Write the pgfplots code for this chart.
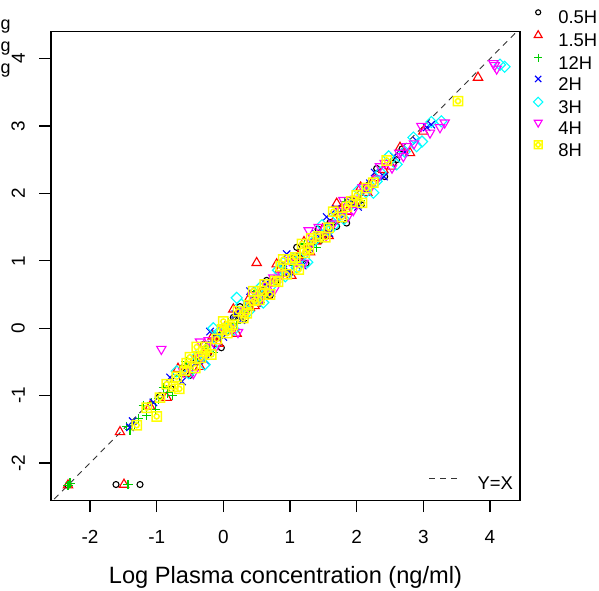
\documentclass[border=0pt]{standalone}
\usepackage{graphicx}
\usepackage{pgfplots}
\pgfplotsset{compat=1.18}
\usepackage{fontspec}
\setmainfont{Liberation Sans}
\definecolor{rgreen}{HTML}{00CD00}
\definecolor{rcyan}{HTML}{00FFFF}
\definecolor{rmag}{HTML}{FF00FF}
\definecolor{ryel}{HTML}{FFFF00}
\pgfdeclareplotmark{sqcirc}{%
  \pgfpathrectangle{\pgfqpoint{-\pgfplotmarksize}{-\pgfplotmarksize}}{\pgfqpoint{2\pgfplotmarksize}{2\pgfplotmarksize}}%
  \pgfpathcircle{\pgfpointorigin}{0.55\pgfplotmarksize}%
  \pgfusepathqstroke}
\begin{document}
\begin{tikzpicture}
\path[use as bounding box] (-51bp,-90.3bp) rectangle (548bp,500.7bp);
\node[anchor=base west, inner sep=0pt, font=\fontsize{18}{18}\selectfont] at (-50.5bp,471.3bp) {g};
\node[anchor=base west, inner sep=0pt, font=\fontsize{18}{18}\selectfont] at (-50.5bp,449.6bp) {g};
\node[anchor=base west, inner sep=0pt, font=\fontsize{18}{18}\selectfont] at (-50.5bp,427.3bp) {g};
\begin{axis}[
  at={(0,0)}, anchor=south west,
  scale only axis, width=469bp, height=469bp,
  xmin=-2.585, xmax=4.45, ymin=-2.56, ymax=4.40,
  xtick={-2,-1,0,1,2,3,4}, ytick={-2,-1,0,1,2,3,4},
  xtick pos=bottom, ytick pos=left,
  tick align=outside, major tick length=11.5bp,
  every tick/.style={black, line width=1.1bp},
  axis line style={line width=1.2bp, black},
  /pgf/number format/assume math mode=true,
  ticklabel style={font=\fontsize{19}{19}\selectfont, inner sep=0pt},
  xticklabel style={anchor=base, yshift=-31.5bp},
  yticklabel={\rotatebox{90}{\pgfmathprintnumber{\tick}}},
  yticklabel style={anchor=east, xshift=-14.5bp},
  xlabel={Log Plasma concentration (ng/ml)},
  xlabel style={at={(axis description cs:0.5,0)}, anchor=base, yshift=-83bp, font=\fontsize{23.7}{24}\selectfont},
  legend cell align=left,
  legend image code/.code={\draw[#1,every mark/.append style={scale=0.85}] plot coordinates {(0bp,6.5bp)};},
  legend style={at={(1,1)}, anchor=north west, xshift=13.5bp, yshift=21.9bp,
    draw=none, fill=none, inner sep=0pt, outer sep=0pt, row sep=3.3bp, column sep=15.5bp,
    font=\fontsize{18.5}{18.5}\selectfont,
    nodes={inner sep=0pt, text height=13.5bp, text depth=3.5bp}},
]
\addplot[black!80, line width=0.9bp, dash pattern=on 6bp off 5bp, forget plot] coordinates {(-3,-3) (5,5)};
% 0.5H
\addplot[only marks, mark=o, mark size=3bp, black, line width=1.1bp] coordinates {
(-2.33,-2.33) (-1.61,-2.32) (-1.25,-2.32)
(-0.95,-1.00) (-0.78,-0.90) (-0.62,-0.59) (-0.50,-0.70) (-0.41,-0.49) (-0.30,-0.24)
(-0.22,-0.37) (-0.12,-0.14) (-0.03,-0.29) (0.06,-0.04) (0.15,0.16) (0.24,0.18)
(0.33,0.15) (0.42,0.50) (0.51,0.38) (0.60,0.56) (0.70,0.48) (0.79,0.70)
(0.88,0.92) (0.97,0.81) (1.06,1.05) (1.15,1.04) (1.24,0.96) (1.33,1.26)
(1.42,1.47) (1.51,1.37) (1.60,1.57) (1.70,1.51) (1.79,1.71) (1.88,1.90)
(1.97,1.85) (2.07,1.83) (2.18,2.13) (2.30,2.37) (2.42,2.25) (2.55,2.45) (2.68,2.66)
(1.85,1.56) (0.25,0.32) (0.65,0.71) (1.10,1.20) (1.45,1.30) (2.60,2.50)
};
\addlegendentry{0.5H}
% 1.5H
\addplot[only marks, mark=triangle, mark size=5.4bp, red, line width=1.1bp] coordinates {
(-2.33,-2.33) (-1.49,-2.32) (0.50,0.97) (3.82,3.72)
(-1.55,-1.54) (-1.10,-1.16) (-0.85,-1.03) (-0.68,-0.60) (-0.55,-0.68) (-0.44,-0.48)
(-0.35,-0.57) (-0.25,-0.34) (-0.16,-0.12) (-0.07,-0.23) (0.02,0.01) (0.11,0.00)
(0.20,-0.08) (0.29,0.22) (0.38,0.43) (0.47,0.33) (0.56,0.53) (0.66,0.47)
(0.75,0.67) (0.84,0.86) (0.93,0.81) (1.02,0.78) (1.12,1.07) (1.21,1.28)
(1.30,1.13) (1.39,1.29) (1.49,1.47) (1.58,1.37) (1.67,1.61) (1.77,1.77)
(1.86,1.73) (1.96,1.87) (2.06,2.09) (2.16,2.01) (2.27,2.23) (2.40,2.35)
(2.52,2.40) (2.65,2.68) (2.80,2.60) (3.00,2.92)
(0.15,0.28) (0.40,0.30) (0.80,0.95) (1.25,1.15) (1.70,1.85) (1.55,1.40)
};
\addlegendentry{1.5H}
% 12H
\addplot[only marks, mark=+, mark size=4.7bp, rgreen, line width=1.1bp] coordinates {
(-2.33,-2.33) (-2.30,-2.30) (-1.43,-2.32)
(-1.45,-1.46) (-1.40,-1.51) (-1.33,-1.42) (-1.27,-1.34) (-1.20,-1.15) (-1.15,-1.29)
(-1.08,-1.11) (-1.02,-1.21) (-0.97,-1.05) (-0.90,-0.88) (-0.84,-0.96) (-0.76,-1.00)
(-0.66,-0.71) (-0.56,-0.49) (-0.46,-0.63) (-0.36,-0.46) (-0.26,-0.28) (-0.15,-0.36)
(-0.04,-0.10) (0.08,0.08) (0.20,0.07) (0.33,0.24) (0.46,0.49) (0.60,0.45)
(0.75,0.71) (0.90,0.85) (1.05,0.93) (1.22,1.25) (1.40,1.20) (1.60,1.52)
(1.82,1.88) (2.05,1.90) (0.55,0.38) (1.15,1.02)
};
\addlegendentry{12H}
% 2H
\addplot[only marks, mark=x, mark size=5.2bp, blue, line width=1.1bp] coordinates {
(-1.40,-1.47) (-1.36,-1.38) (-1.05,-1.10) (-0.80,-0.73) (-0.62,-0.79) (-0.48,-0.58)
(-0.37,-0.39) (-0.27,-0.48) (-0.18,-0.24) (-0.09,-0.09) (0.00,-0.13) (0.09,0.00)
(0.18,0.21) (0.27,0.12) (0.36,0.32) (0.45,0.40) (0.54,0.42) (0.63,0.66)
(0.72,0.52) (0.81,0.73) (0.90,0.96) (0.99,0.84) (1.09,1.07) (1.19,0.93)
(1.29,1.19) (1.39,1.40) (1.49,1.43) (1.59,1.41) (1.69,1.77) (1.80,1.67)
(1.91,1.87) (2.02,1.80) (2.14,2.05) (2.27,2.31) (2.41,2.25) (2.56,2.55)
(2.72,2.61) (2.90,2.78) (3.05,2.98) (3.12,3.02)
(0.40,0.55) (0.95,1.10) (1.55,1.65) (2.20,2.15) (-0.20,-0.05)
};
\addlegendentry{2H}
% 3H
\addplot[only marks, mark=square, mark size=3.9bp, mark options={rotate=45}, rcyan, line width=1.1bp] coordinates {
(4.22,3.88) (4.15,3.91) (0.20,0.45) (0.90,0.97) (-0.15,0.00)
(-0.70,-0.64) (-0.52,-0.67) (-0.40,-0.42) (-0.28,-0.54) (-0.17,-0.27) (-0.06,-0.05)
(0.05,-0.01) (0.16,-0.02) (0.27,0.35) (0.38,0.25) (0.49,0.45) (0.60,0.38)
(0.71,0.62) (0.82,0.86) (0.93,0.77) (1.04,1.03) (1.15,1.04) (1.26,0.98)
(1.37,1.30) (1.48,1.53) (1.59,1.45) (1.70,1.67) (1.81,1.62) (1.92,1.84)
(2.03,2.05) (2.14,2.02) (2.25,2.01) (2.36,2.31) (2.48,2.55) (2.60,2.43)
(2.72,2.62) (2.85,2.83) (2.98,2.77) (3.12,3.06) (3.27,3.07)
(0.55,0.60) (1.10,0.90) (1.65,1.52) (2.30,2.18) (2.90,2.70)
};
\addlegendentry{3H}
% 4H
\addplot[only marks, mark=triangle, mark size=5.4bp, mark options={rotate=180}, rmag, line width=1.1bp] coordinates {
(-0.93,-0.31) (4.07,3.90) (4.05,3.93) (4.10,3.85) (3.32,3.05) (-0.35,-0.20)
(-0.60,-0.64) (-0.45,-0.67) (-0.33,-0.42) (-0.22,-0.18) (-0.11,-0.27) (0.00,-0.01)
(0.11,0.00) (0.22,-0.06) (0.33,0.26) (0.44,0.49) (0.55,0.41) (0.66,0.63)
(0.77,0.58) (0.88,0.80) (0.99,1.01) (1.10,0.98) (1.21,0.97) (1.32,1.27)
(1.43,1.50) (1.54,1.37) (1.65,1.55) (1.76,1.74) (1.87,1.66) (1.98,1.92)
(2.09,2.09) (2.20,2.07) (2.31,2.22) (2.42,2.45) (2.53,2.38) (2.64,2.60)
(2.75,2.70) (2.86,2.74) (2.97,3.00) (3.10,2.90) (3.25,2.98)
(1.28,1.45) (1.80,1.90) (2.35,2.40) (1.95,1.75) (2.70,2.55) (0.75,0.75)
};
\addlegendentry{4H}
% 8H
\addplot[only marks, mark=sqcirc, mark size=4.6bp, ryel, line width=1.5bp] coordinates {
(3.52,3.37)
(-1.30,-1.44) (-1.15,-1.18) (-1.00,-1.31) (-0.95,-1.03) (-0.85,-0.83) (-0.75,-0.87)
(-0.66,-0.90) (-0.58,-0.63) (-0.50,-0.43) (-0.42,-0.59) (-0.34,-0.44) (-0.26,-0.28)
(-0.18,-0.39) (-0.10,-0.16) (-0.02,-0.02) (0.06,-0.07) (0.14,0.05) (0.22,0.25)
(0.30,0.15) (0.38,0.34) (0.46,0.41) (0.54,0.42) (0.62,0.65) (0.70,0.50)
(0.78,0.70) (0.86,0.92) (0.95,0.80) (1.04,1.02) (1.13,0.87) (1.22,1.12)
(1.32,1.33) (1.42,1.36) (1.53,1.35) (1.65,1.73) (1.78,1.65) (1.92,1.88)
(2.08,1.86) (2.25,2.16) (2.45,2.49)
(0.10,0.02) (0.35,0.22) (0.58,0.55) (0.82,0.69) (1.08,1.05) (1.28,1.17)
(-0.30,-0.35) (-0.55,-0.52) (1.58,1.49) (1.85,1.80) (2.00,1.97) (2.15,2.08)
(-0.40,-0.28) (0.00,0.10) (0.45,0.55) (0.90,1.02) (-0.70,-0.72) (1.18,1.25)
};
\addlegendentry{8H}
\end{axis}
\begin{axis}[
  at={(0,0)}, anchor=south west,
  scale only axis, width=469bp, height=469bp,
  xmin=-2.585, xmax=4.45, ymin=-2.56, ymax=4.40,
  hide axis,
  legend cell align=left,
  legend image code/.code={\draw[#1] (0bp,6.5bp) -- (32bp,6.5bp);},
  legend style={at={(1,0)}, anchor=south east, xshift=-7bp, yshift=7.6bp,
    draw=none, fill=none, inner sep=0pt, outer sep=0pt, column sep=16bp,
    font=\fontsize{18.5}{18.5}\selectfont,
    nodes={inner sep=0pt, text height=13.5bp, text depth=3.5bp}},
]
\addplot[draw=none, forget plot] coordinates {(0,0)};
\addlegendimage{black!80, line width=1bp, dash pattern=on 6bp off 5bp}
\addlegendentry{Y=X}
\end{axis}
\end{tikzpicture}
\end{document}
